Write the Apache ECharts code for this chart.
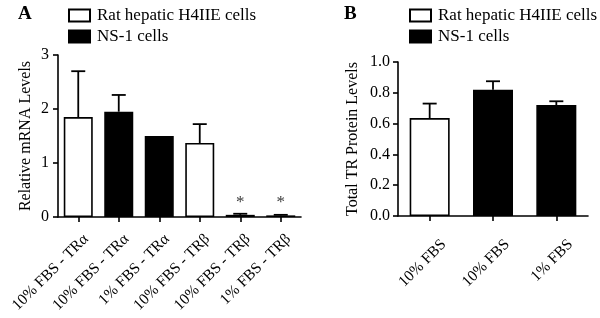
<!DOCTYPE html>
<html>
<head>
<meta charset="utf-8">
<script src="https://cdn.jsdelivr.net/npm/echarts@6/dist/echarts.min.js"></script>
<style>
html,body{margin:0;padding:0;background:#fff}
#chart{width:600px;height:318px}
</style>
</head>
<body>
<div id="chart"></div>
<script>
// panel A
var catsA = ['10% FBS - TRα', '10% FBS - TRα', '1% FBS - TRα', '10% FBS - TRβ', '10% FBS - TRβ', '1% FBS - TRβ'];
var h4A = [1.85, null, null, 1.37, null, null];
var ns1A = [null, 1.95, 1.5, null, 0.04, 0.03];
var errA = [0.85, 0.31, 0, 0.35, 0.02, 0.01];
var starA = [null, null, null, null, 0.26, 0.26];
var ticksA = [0, 1, 2, 3];
// panel B
var catsB = ['10% FBS', '10% FBS', '1% FBS'];
var h4B = [0.636, null, null];
var ns1B = [null, 0.82, 0.72];
var errB = [0.094, 0.055, 0.025];
var ticksB = [0, 0.2, 0.4, 0.6, 0.8, 1.0];

var serif = 'Liberation Serif';
var nameH4 = 'Rat hepatic H4IIE cells';
var nameNS = 'NS-1 cells';

function errData(h, n, e){
	var out = [];
	for(var i=0;i<e.length;i++){
		var v = h[i] != null ? h[i] : n[i];
		if(e[i] > 0) out.push([i, v, v + e[i]]);
	}
	return out;
}

function errRender(params, api){
	var p0 = api.coord([api.value(0), api.value(1)]);
	var p1 = api.coord([api.value(0), api.value(2)]);
	var half = 7;
	return {
		type: 'group',
		children: [
			{type:'line', shape:{x1:p0[0], y1:p0[1], x2:p1[0], y2:p1[1]}, style:{stroke:'#000', lineWidth:1.8}},
			{type:'line', shape:{x1:p1[0]-half, y1:p1[1], x2:p1[0]+half, y2:p1[1]}, style:{stroke:'#000', lineWidth:1.8}}
		]
	};
}

var axisLine = {show:true, lineStyle:{color:'#000', width:1.6}};
var axisTick = {show:true, length:5, lineStyle:{color:'#000', width:1.6}};

function xAxisOf(gi, cats, m, p){
	return {
		type:'category', gridIndex:gi, data:cats,
		axisLine:axisLine,
		axisTick:{show:true, alignWithLabel:true, length:5, lineStyle:{color:'#000', width:1.6}},
		axisLabel:{rotate:45, fontFamily:serif, fontSize:15.5, color:'#000', margin:m, interval:0,
		  verticalAlign:'top', padding:[p,0,0,0]}
	};
}

var whiteStyle = {color:'#fff', borderColor:'#000', borderWidth:1.6};
var blackStyle = {color:'#000', borderColor:'#000', borderWidth:1.6};
var legendText = {fontFamily:serif, fontSize:17, color:'#000', padding:[0,0,0,2]};

var option = {
	animation:false,
	backgroundColor:'#fff',
	title:[
		{text:'A', left:13, top:0, textStyle:{fontFamily:serif, fontSize:19, fontWeight:'bold', color:'#000'}},
		{text:'B', left:339, top:0, textStyle:{fontFamily:serif, fontSize:19, fontWeight:'bold', color:'#000'}}
	],
	legend:[
		{left:63, top:2, orient:'vertical', icon:'rect', itemWidth:21, itemHeight:12, itemGap:4, data:[nameH4, nameNS],
		 textStyle:legendText, selectedMode:false},
		{left:404, top:2, orient:'vertical', icon:'rect', itemWidth:21, itemHeight:12, itemGap:4, data:[nameH4, nameNS],
		 textStyle:legendText, selectedMode:false}
	],
	grid:[
		{left:58, top:55, width:243, height:162},
		{left:398, top:62, width:190, height:154}
	],
	xAxis:[xAxisOf(0, catsA, 12, 3), xAxisOf(1, catsB, 12, 12)],
	yAxis:[
		{type:'value', gridIndex:0, min:0, max:3, interval:1,
		 name:'Relative mRNA Levels', nameLocation:'middle', nameGap:24,
		 nameTextStyle:{fontFamily:serif, fontSize:16, color:'#000'},
		 axisLine:axisLine, axisTick:axisTick, splitLine:{show:false},
		 axisLabel:{fontFamily:serif, fontSize:16, color:'#000', margin:9}},
		{type:'value', gridIndex:1, min:0, max:1, interval:0.2,
		 name:'Total TR Protein Levels', nameLocation:'middle', nameGap:37,
		 nameTextStyle:{fontFamily:serif, fontSize:16, color:'#000'},
		 axisLine:axisLine, axisTick:axisTick, splitLine:{show:false},
		 axisLabel:{fontFamily:serif, fontSize:16, color:'#000', margin:8,
		   formatter:function(v){return v.toFixed(1)}}}
	],
	series:[
		{name:nameH4, type:'bar', xAxisIndex:0, yAxisIndex:0, data:h4A, barWidth:29, barGap:'-100%', itemStyle:whiteStyle},
		{name:nameNS, type:'bar', xAxisIndex:0, yAxisIndex:0, data:ns1A, barWidth:29, barGap:'-100%', itemStyle:blackStyle},
		{type:'custom', xAxisIndex:0, yAxisIndex:0, data:errData(h4A, ns1A, errA), renderItem:errRender, z:5},
		{type:'scatter', xAxisIndex:0, yAxisIndex:0, symbol:'circle', symbolSize:2, data:starA,
		 itemStyle:{color:'rgba(0,0,0,0)'},
		 label:{show:true, position:'inside', formatter:'*', fontFamily:serif, fontSize:17, color:'#000'}},
		{name:nameH4, type:'bar', xAxisIndex:1, yAxisIndex:1, data:h4B, barWidth:40, barGap:'-100%', itemStyle:whiteStyle},
		{name:nameNS, type:'bar', xAxisIndex:1, yAxisIndex:1, data:ns1B, barWidth:40, barGap:'-100%', itemStyle:blackStyle},
		{type:'custom', xAxisIndex:1, yAxisIndex:1, data:errData(h4B, ns1B, errB), renderItem:errRender, z:5}
	]
};

var myChart = echarts.init(document.getElementById('chart'));
myChart.setOption(option);
</script>
</body>
</html>
